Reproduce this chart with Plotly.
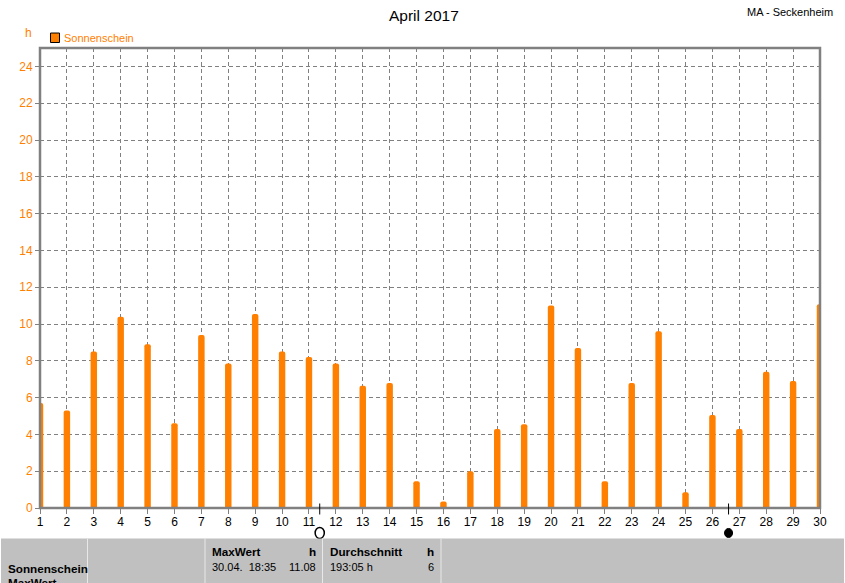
import plotly.graph_objects as go

days = list(range(1, 31))
sunshine = [5.7, 5.3, 8.5, 10.4, 8.9, 4.6, 9.4, 7.85, 10.55, 8.5, 8.2, 7.85, 6.65, 6.8, 1.45,
            0.35, 2.0, 4.3, 4.55, 11.0, 8.7, 1.45, 6.8, 9.6, 0.85, 5.05, 4.3, 7.4, 6.9, 11.08]
y_ticks = list(range(0, 25, 2))
series_name = "Sonnenschein"
title = "April 2017"
station = "MA - Seckenheim"
full_moon_day = 11.4
new_moon_day = 26.6

ORANGE = "#FF8000"
GRAY = "#808080"
PANEL = "#C0C0C0"
FONT = "Liberation Sans"
W, H = 845, 583
L, R, T, B = 40, 25, 48, 74.5
PH = H - T - B
PW = W - L - R


def px(x):
    return (x - L) / PW


def py(y):
    return (H - B - y) / PH


fig = go.Figure(go.Bar(x=days, y=sunshine, name=series_name, width=0.24,
                       marker=dict(color=ORANGE, line_width=0), showlegend=False))

shapes = [
    dict(type="circle", xref="x", yref="paper", x0=new_moon_day - 0.15, x1=new_moon_day + 0.15,
         y0=py(538), y1=py(529), fillcolor="black", line=dict(color="black", width=1)),
    dict(type="circle", xref="x", yref="paper", x0=full_moon_day - 0.17, x1=full_moon_day + 0.17,
         y0=py(539), y1=py(528), fillcolor="white", line=dict(color="black", width=1.5)),
    dict(type="rect", xref="paper", yref="paper", x0=px(1), x1=px(844), y0=py(539), y1=py(590),
         fillcolor=PANEL, line_width=0, layer="above"),
    dict(type="rect", xref="paper", yref="paper", x0=0, x1=1, y0=0, y1=1,
         fillcolor="rgba(0,0,0,0)", line=dict(color=GRAY, width=2.5), layer="above"),
    dict(type="rect", xref="paper", yref="paper", x0=px(50.5), x1=px(59.5), y0=py(33), y1=py(42.5),
         fillcolor=ORANGE, line=dict(color="black", width=1)),
]
for sx in (87.5, 205, 322.5, 441):
    shapes.append(dict(type="line", xref="paper", yref="paper", x0=px(sx), x1=px(sx), y0=py(539), y1=py(590),
                       line=dict(color="#E8E8E8", width=1)))
for d in (full_moon_day, new_moon_day):
    shapes.append(dict(type="line", xref="x", yref="paper", x0=d, x1=d, y0=py(504), y1=py(515),
                       line=dict(color="black", width=1)))


def text(x, y, s, color="black", size=11, anchor="left", bold=False):
    shift = {"left": -2, "right": 2, "center": 0}[anchor]
    return dict(xref="paper", yref="paper", x=px(x + shift), y=py(y), text=f"<b>{s}</b>" if bold else s,
                showarrow=False, xanchor=anchor, yanchor="middle", align=anchor,
                font=dict(family=FONT, size=size, color=color))


annotations = [
    text(424, 15, title, size=15.5, anchor="center"),
    text(833, 12, station, size=11, anchor="right"),
    text(28, 33, "h", color=ORANGE, size=12, anchor="center"),
    text(64, 38, series_name, color=ORANGE, size=11),
    text(8, 569, series_name, bold=True, size=11.7),
    text(8, 583, "MaxWert", bold=True, size=11.7),
    text(212, 552, "MaxWert", bold=True, size=11.7),
    text(316, 552, "h", bold=True, anchor="right", size=11.7),
    text(212, 568, "30.04.  18:35"),
    text(316, 568, "11.08", anchor="right"),
    text(330, 552, "Durchschnitt", bold=True, size=11.7),
    text(434, 552, "h", bold=True, anchor="right", size=11.7),
    text(330, 568, "193:05 h"),
    text(434, 568, "6", anchor="right"),
]

fig.update_layout(
    width=W, height=H, margin=dict(l=L, r=R, t=T, b=B, pad=0, autoexpand=False),
    paper_bgcolor="white", plot_bgcolor="white", barcornerradius=2,
    font=dict(family=FONT, size=12), shapes=shapes, annotations=annotations, showlegend=False,
    xaxis=dict(range=[1, 30], tickmode="array", tickvals=days, ticktext=[str(d) for d in days],
               showgrid=True, gridcolor=GRAY, griddash="4px,3px", gridwidth=1, zeroline=False,
               ticks="outside", ticklen=5, tickcolor=GRAY, tickwidth=1, tickfont=dict(color="black", size=12),
               ticklabelstandoff=-2, showline=False),
    yaxis=dict(range=[0, 25], tickmode="array", tickvals=y_ticks, ticktext=[str(v) for v in y_ticks],
               showgrid=True, gridcolor=GRAY, griddash="4px,3px", gridwidth=1, zeroline=False,
               ticks="outside", ticklen=4, tickcolor=GRAY, tickwidth=1, tickfont=dict(color=ORANGE, size=12),
               showline=False),
)

fig.write_html("out.html", config={"displayModeBar": False},
               post_script="document.body.style.margin='0';document.body.style.overflow='hidden';")
